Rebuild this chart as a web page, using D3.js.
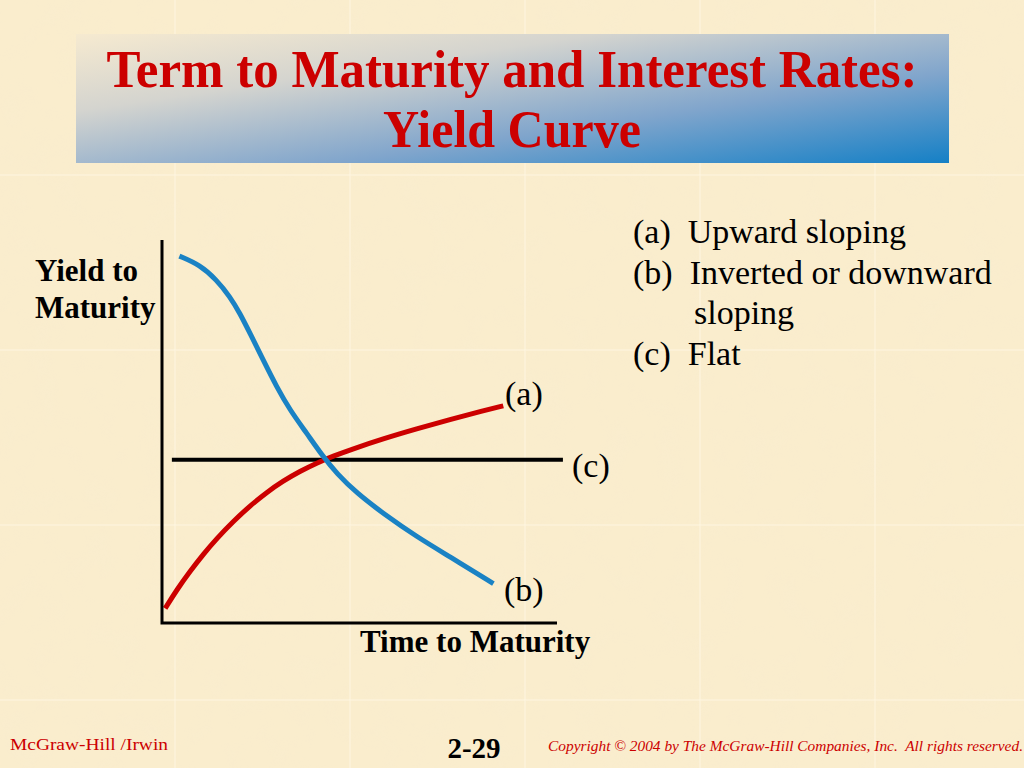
<!DOCTYPE html>
<html>
<head>
<meta charset="utf-8">
<script src="https://cdn.jsdelivr.net/npm/d3@7"></script>
<style>
  html, body { margin: 0; padding: 0; background: #f9ebc9; }
  svg { display: block; }
</style>
</head>
<body>
<div id="slide"></div>
<script>
// data (arbitrary units: time 0-10, yield 0-10)
var upwardX = [0.08, 0.37, 0.71, 1.05, 1.38, 1.81, 2.23, 2.65, 3.07, 3.49, 3.92, 4.34, 4.76, 5.60, 6.45, 7.29, 8.13, 8.64];
var upwardY = [0.38, 0.86, 1.35, 1.80, 2.20, 2.66, 3.06, 3.41, 3.71, 3.96, 4.18, 4.36, 4.52, 4.81, 5.07, 5.31, 5.54, 5.67];
var invertedX = [0.44, 0.96, 1.38, 1.72, 1.97, 2.23, 2.56, 2.90, 3.24, 3.66, 4.08, 4.42, 4.93, 5.60, 6.45, 7.29, 8.39];
var invertedY = [9.58, 9.35, 8.96, 8.52, 8.09, 7.56, 6.87, 6.17, 5.56, 4.96, 4.34, 3.91, 3.39, 2.86, 2.25, 1.73, 1.03];
var flatX = [0.25, 10.15];
var flatY = [4.26, 4.26];
var curveLabels = ["(a)", "(b)", "(c)"];
var legendLines = ["(a)  Upward sloping", "(b)  Inverted or downward", "sloping", "(c)  Flat"];
var titleLines = ["Term to Maturity and Interest Rates:", "Yield Curve"];

var W = 1024, H = 768;
var serif = "'Liberation Serif', 'Times New Roman', serif";
var svg = d3.select("#slide").append("svg").attr("width", W).attr("height", H);
var defs = svg.append("defs");

// parchment background
svg.append("rect").attr("width", W).attr("height", H).attr("fill", "#faedcd");
var f = defs.append("filter").attr("id", "paper").attr("x", 0).attr("y", 0).attr("width", "100%").attr("height", "100%");
f.append("feTurbulence").attr("type", "fractalNoise").attr("baseFrequency", 0.035).attr("numOctaves", 3).attr("seed", 4);
f.append("feColorMatrix").attr("type", "matrix")
  .attr("values", "0 0 0 0 0.93  0 0 0 0 0.83  0 0 0 0 0.64  0 0 0 1.1 -0.45");
svg.append("rect").attr("width", W).attr("height", H).attr("filter", "url(#paper)").attr("opacity", 0.35);
// tile seams
var seams = svg.append("g").attr("stroke", "#fff8e6").attr("stroke-width", 1).attr("opacity", 0.8);
[175, 350, 525, 700, 875].forEach(function(x){
  seams.append("line").attr("x1", x).attr("x2", x).attr("y1", 0).attr("y2", H);
});
[175, 350, 525, 700].forEach(function(y){
  seams.append("line").attr("x1", 0).attr("x2", W).attr("y1", y).attr("y2", y);
});

// title banner
var grad = defs.append("linearGradient").attr("id", "banner")
  .attr("x1", "0%").attr("y1", "0%").attr("x2", "100%").attr("y2", "100%");
grad.append("stop").attr("offset", "0%").attr("stop-color", "#f6ead0");
grad.append("stop").attr("offset", "30%").attr("stop-color", "#d4d4cf");
grad.append("stop").attr("offset", "65%").attr("stop-color", "#80a5cc");
grad.append("stop").attr("offset", "100%").attr("stop-color", "#1580c6");
svg.append("rect").attr("x", 76).attr("y", 34).attr("width", 873).attr("height", 129).attr("fill", "url(#banner)");
var titleLen = [811, 258];
svg.selectAll(".title").data(titleLines).enter().append("text")
  .attr("class", "title")
  .attr("x", 512)
  .attr("y", function(d, i){ return 87 + i * 60; })
  .attr("text-anchor", "middle")
  .attr("font-family", serif)
  .attr("font-weight", "bold")
  .attr("font-size", 52)
  .attr("textLength", function(d, i){ return titleLen[i]; })
  .attr("lengthAdjust", "spacingAndGlyphs")
  .attr("fill", "#cc0000")
  .text(function(d){ return d; });

// chart
var x = d3.scaleLinear().domain([0, 10]).range([162, 557]);
var y = d3.scaleLinear().domain([0, 10]).range([623, 240]);
var straight = d3.line().x(function(d){ return x(d[0]); }).y(function(d){ return y(d[1]); });
var smooth = d3.line().x(function(d){ return x(d[0]); }).y(function(d){ return y(d[1]); }).curve(d3.curveBasis);

function pts(xs, ys){ return xs.map(function(v, i){ return [v, ys[i]]; }); }

svg.append("path").datum(pts(flatX, flatY)).attr("d", straight)
  .attr("fill", "none").attr("stroke", "#000").attr("stroke-width", 4);
svg.append("path").datum(pts(upwardX, upwardY)).attr("d", smooth)
  .attr("fill", "none").attr("stroke", "#cc0000").attr("stroke-width", 5);
svg.append("path").datum(pts(invertedX, invertedY)).attr("d", smooth)
  .attr("fill", "none").attr("stroke", "#1a82c4").attr("stroke-width", 5);

// axes (plain lines, no ticks)
svg.append("path")
  .attr("d", "M" + x(0) + "," + y(10) + "V" + y(0) + "H" + x(10))
  .attr("fill", "none").attr("stroke", "#000").attr("stroke-width", 3);

svg.append("text").attr("x", 35).attr("y", 281).attr("font-family", serif).attr("font-weight", "bold").attr("font-size", 31).text("Yield to");
svg.append("text").attr("x", 35).attr("y", 318).attr("font-family", serif).attr("font-weight", "bold").attr("font-size", 31).text("Maturity");
svg.append("text").attr("x", 360).attr("y", 652).attr("font-family", serif).attr("font-weight", "bold").attr("font-size", 31).text("Time to Maturity");

// curve labels
var labelPos = [[505, 405], [504, 601], [572, 477]];
svg.selectAll(".clab").data(curveLabels).enter().append("text")
  .attr("class", "clab")
  .attr("x", function(d, i){ return labelPos[i][0]; })
  .attr("y", function(d, i){ return labelPos[i][1]; })
  .attr("font-family", serif).attr("font-size", 34)
  .text(function(d){ return d; });

// legend
svg.selectAll(".leg").data(legendLines).enter().append("text")
  .attr("class", "leg")
  .attr("x", function(d, i){ return i == 2 ? 694 : 633; })
  .attr("y", function(d, i){ return 243 + i * 40.5; })
  .attr("font-family", serif).attr("font-size", 34)
  .style("white-space", "pre")
  .text(function(d){ return d; });

// footer
svg.append("text").attr("x", 10).attr("y", 750).attr("font-family", serif).attr("font-size", 17)
  .attr("textLength", 158).attr("lengthAdjust", "spacingAndGlyphs")
  .attr("fill", "#cc0000").text("McGraw-Hill /Irwin");
svg.append("text").attr("x", 474).attr("y", 758).attr("text-anchor", "middle").attr("font-family", serif).attr("font-weight", "bold").attr("font-size", 29).text("2-29");
svg.append("text").attr("x", 548).attr("y", 751).attr("font-family", serif).attr("font-style", "italic").attr("font-size", 15)
  .attr("textLength", 475).attr("lengthAdjust", "spacingAndGlyphs")
  .attr("fill", "#cc0000").style("white-space", "pre")
  .text("Copyright \u00a9 2004 by The McGraw-Hill Companies, Inc.  All rights reserved.");
</script>
</body>
</html>
